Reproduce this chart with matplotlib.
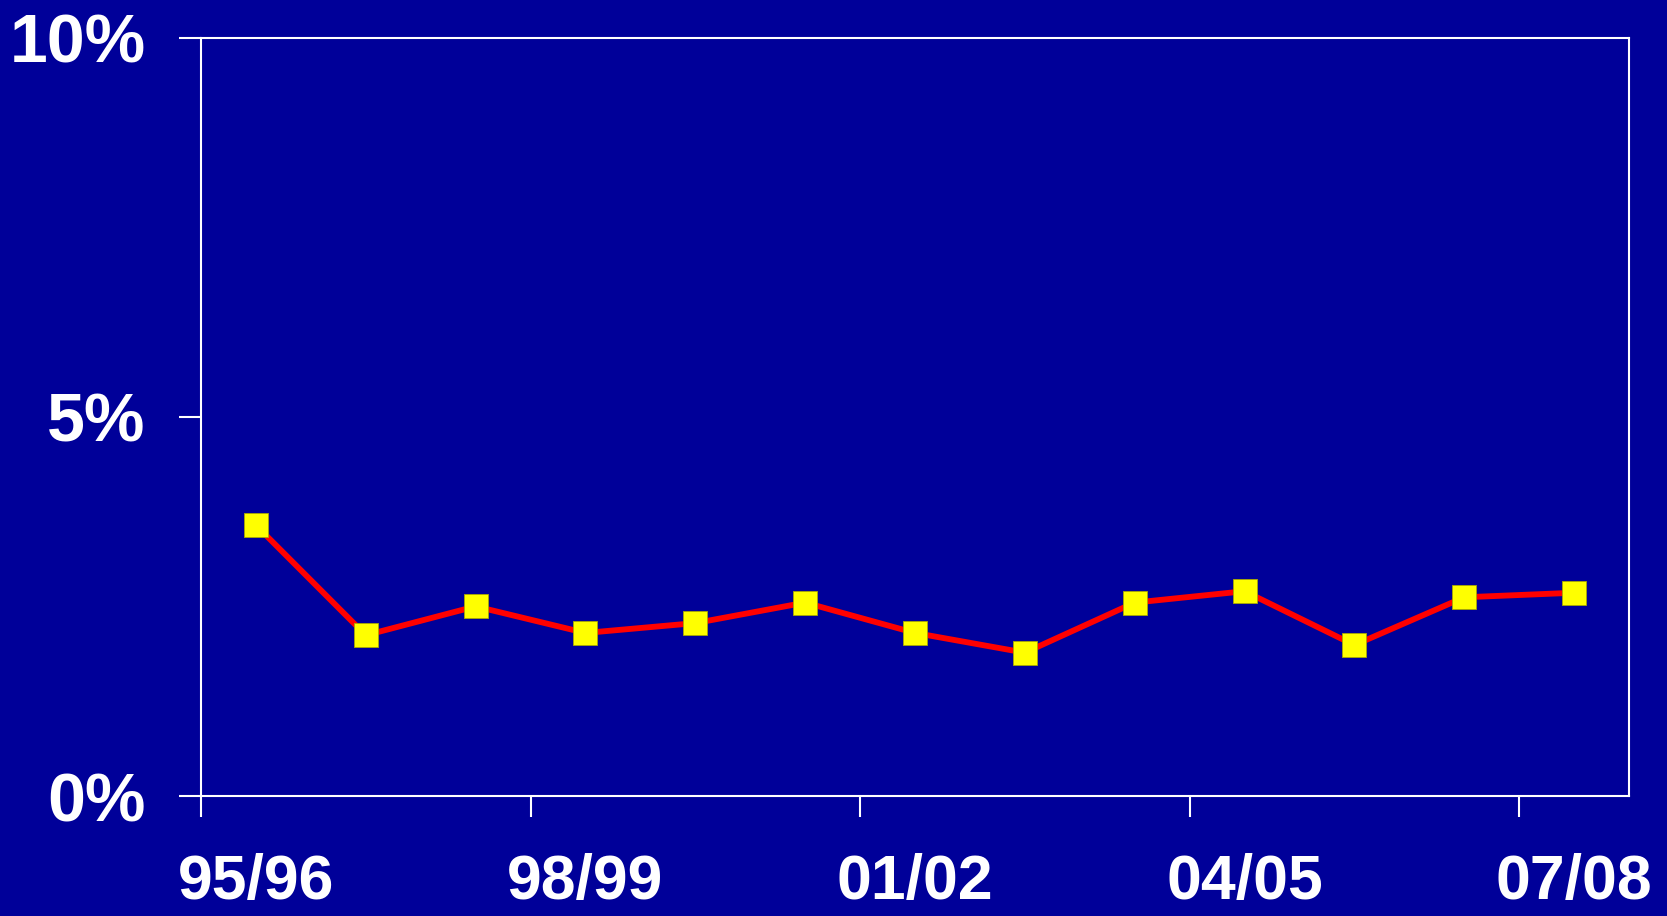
import matplotlib
matplotlib.use('Agg')
import matplotlib.pyplot as plt
import numpy as np

# Данные: учебные годы и доля (%)
years = ['95/96', '96/97', '97/98', '98/99', '99/00', '00/01', '01/02',
         '02/03', '03/04', '04/05', '05/06', '06/07', '07/08']
values = [3.57, 2.12, 2.50, 2.15, 2.28, 2.55, 2.15, 1.89, 2.55, 2.70, 1.99, 2.62, 2.68]
y_ticks = [0, 5, 10]
y_labels = ['0%', '5%', '10%']
label_every = 3

bg = '#000099'
plt.rcParams['font.family'] = ['Liberation Sans', 'DejaVu Sans']

fig = plt.figure(figsize=(16.67, 9.16), dpi=100, facecolor=bg)
ax = fig.add_axes([0.1206, 0.131, 0.8566, 0.828])
ax.set_facecolor(bg)

x = np.arange(len(years))
ax.plot(x, values, color='#ff0000', linewidth=4.2, marker='s', markersize=17,
        markerfacecolor='#ffff00', markeredgecolor='#aaaa00', markeredgewidth=0.6,
        solid_joinstyle='miter', zorder=3)

ax.set_xlim(-0.5, len(years) - 0.5)
ax.set_ylim(0, 10)

# Засечки на границах категорий, подписи по центру
ax.set_xticks(np.arange(-0.5, len(years) - 0.5, label_every))
ax.set_xticklabels([])
ax.set_xticks(x[::label_every], minor=True)
ax.set_xticklabels([years[i] for i in x[::label_every]], minor=True)
ax.tick_params(axis='x', which='major', length=15, width=1.5, color='white')
ax.tick_params(axis='x', which='minor', length=0, pad=41, labelsize=45,
               labelcolor='white')

ax.set_yticks(y_ticks)
ax.set_yticklabels(y_labels)
ax.tick_params(axis='y', length=16, width=1.5, color='white', pad=24,
               labelsize=49, labelcolor='white')

for lbl in ax.get_xticklabels(minor=True) + ax.get_yticklabels():
    lbl.set_fontweight('bold')

for s in ax.spines.values():
    s.set_color('white')
    s.set_linewidth(1.5)

fig.savefig('out.png', dpi=100, facecolor=bg)
